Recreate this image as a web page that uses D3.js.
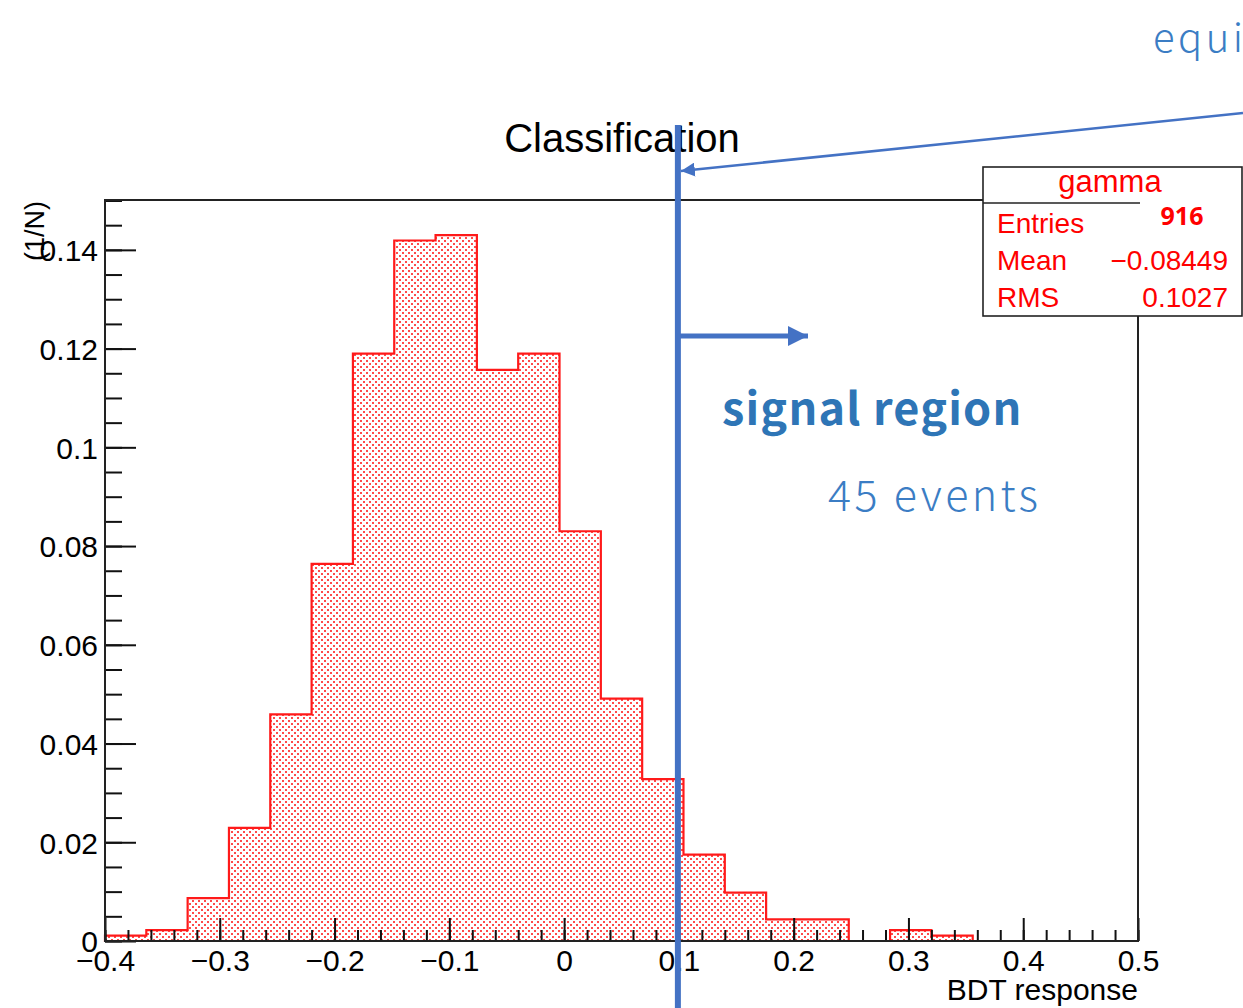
<!DOCTYPE html>
<html lang="en">
<head>
<meta charset="UTF-8">
<title>Classification - BDT response</title>
<script src="https://d3js.org/d3.v7.min.js"></script>
<style>
    html, body { margin: 0; padding: 0; background: #ffffff; }
    svg { display: block; }
    .axis text { font-family: 'Liberation Sans', Arial, sans-serif; font-size: 30px; fill: #000; }
    .axis line { stroke: #111; stroke-width: 2px; }
    .stats text { font-family: 'Liberation Sans', Arial, sans-serif; font-size: 28px; fill: #ff0000; }
    .note { font-family: 'Noto Sans CJK JP', 'Noto Sans', sans-serif; fill: #2e75b6; }
</style>
</head>
<body>
<div id="chart"></div>
<script>
    // histogram: 25 bins between -0.4 and 0.5, normalised (1/N)
    const binLow = -0.4;
    const binHigh = 0.5;
    const binValues = [0.0011, 0.0022, 0.0087, 0.0229, 0.0459, 0.0764, 0.1190, 0.1419, 0.1430,
                       0.1157, 0.1190, 0.0830, 0.0491, 0.0328, 0.0175, 0.0098, 0.0044, 0.0044,
                       0, 0.0022, 0.0011, 0, 0, 0, 0];
    const xMajorTicks = [-0.4, -0.3, -0.2, -0.1, 0, 0.1, 0.2, 0.3, 0.4, 0.5];
    const yMajorTicks = [0, 0.02, 0.04, 0.06, 0.08, 0.1, 0.12, 0.14];
    const statLabels = ["Entries", "Mean", "RMS"];
    const statValues = ["916", "\u22120.08449", "0.1027"];
    const cutValue = 0.1;

    const W = 1243, H = 1008;
    const frame = { left: 105, right: 1138, top: 200, bottom: 941 };

    const svg = d3.select("#chart").append("svg")
        .attr("width", W).attr("height", H);

    const x = d3.scaleLinear().domain([binLow, binHigh]).range([frame.left, frame.right]);
    const y = d3.scaleLinear().domain([0, 0.1501]).range([frame.bottom, frame.top]);

    // dotted fill like ROOT fill style
    const defs = svg.append("defs");
    const pat = defs.append("pattern").attr("id", "dots")
        .attr("patternUnits", "userSpaceOnUse")
        .attr("width", 6).attr("height", 6);
    pat.append("rect").attr("x", 0).attr("y", 0).attr("width", 2).attr("height", 2).attr("fill", "#ff4a4a");
    pat.append("rect").attr("x", 3).attr("y", 3).attr("width", 2).attr("height", 2).attr("fill", "#ff4a4a");

    const binWidth = (binHigh - binLow) / binValues.length;
    let pts = [[binLow, 0]];
    binValues.forEach((v, i) => {
        pts.push([binLow + i * binWidth, v]);
        pts.push([binLow + (i + 1) * binWidth, v]);
    });
    pts.push([binHigh, 0]);

    const line = d3.line().x(d => x(d[0])).y(d => y(d[1]));

    svg.append("path")
        .attr("d", line(pts) + "Z")
        .attr("fill", "url(#dots)")
        .attr("stroke", "#ff1a1a")
        .attr("stroke-width", 2.2);

    // axes (ticks inward like ROOT)
    const fmtY = d => d === 0 ? "0" : d3.format(".2~f")(d);
    const fmtX = d => d === 0 ? "0" : d3.format(".1~f")(d);

    const yMinor = d3.range(0, 0.1501, 0.005);
    svg.append("g").attr("class", "axis")
        .attr("transform", `translate(${frame.left},0)`)
        .call(d3.axisLeft(y).tickValues(yMinor).tickSize(-17).tickFormat(""))
        .call(g => g.select(".domain").remove());
    svg.append("g").attr("class", "axis")
        .attr("transform", `translate(${frame.left},0)`)
        .call(d3.axisLeft(y).tickValues(yMajorTicks).tickSize(-31).tickPadding(7).tickFormat(fmtY))
        .call(g => g.select(".domain").remove())
        .call(g => g.selectAll("text").attr("dy", "0.36em"));

    const xMinor = d3.range(-0.4, 0.5001, 0.02);
    svg.append("g").attr("class", "axis")
        .attr("transform", `translate(0,${frame.bottom})`)
        .call(d3.axisBottom(x).tickValues(xMinor).tickSize(-11).tickFormat(""))
        .call(g => g.select(".domain").remove());
    svg.append("g").attr("class", "axis")
        .attr("transform", `translate(0,${frame.bottom})`)
        .call(d3.axisBottom(x).tickValues(xMajorTicks).tickSize(-23).tickPadding(9).tickFormat(fmtX))
        .call(g => g.select(".domain").remove());

    // frame
    svg.append("rect")
        .attr("x", frame.left).attr("y", frame.top)
        .attr("width", frame.right - frame.left).attr("height", frame.bottom - frame.top)
        .attr("fill", "none").attr("stroke", "#222").attr("stroke-width", 2);

    // titles
    svg.append("text")
        .attr("x", 622).attr("y", 152)
        .attr("text-anchor", "middle")
        .style("font-family", "'Liberation Sans', Arial, sans-serif")
        .style("font-size", "40px")
        .text("Classification");

    svg.append("text")
        .attr("x", frame.right).attr("y", 1000)
        .attr("text-anchor", "end")
        .style("font-family", "'Liberation Sans', Arial, sans-serif")
        .style("font-size", "30px")
        .text("BDT response");

    svg.append("text")
        .attr("transform", "translate(44,231) rotate(-90)")
        .attr("text-anchor", "middle")
        .style("font-family", "'Liberation Sans', Arial, sans-serif")
        .style("font-size", "27px")
        .text("(1/N)");

    // stats box
    const box = { x: 983, y: 167, w: 259, h: 149 };
    const stats = svg.append("g").attr("class", "stats");
    stats.append("rect")
        .attr("x", box.x).attr("y", box.y).attr("width", box.w).attr("height", box.h)
        .attr("fill", "#fff").attr("stroke", "#222").attr("stroke-width", 1.6);
    stats.append("line")
        .attr("x1", box.x).attr("x2", 1140).attr("y1", 203).attr("y2", 203)
        .attr("stroke", "#222").attr("stroke-width", 1.6);
    stats.append("text")
        .attr("x", 1110).attr("y", 192).attr("text-anchor", "middle")
        .style("font-size", "31px")
        .text("gamma");
    stats.selectAll("text.lab").data(statLabels).join("text")
        .attr("class", "lab")
        .attr("x", 997).attr("y", (d, i) => 233 + i * 37)
        .text(d => d);
    stats.selectAll("text.val").data(statValues).join("text")
        .attr("class", "val")
        .attr("x", (d, i) => i === 0 ? 1182 : 1228)
        .attr("y", (d, i) => i === 0 ? 225 : 233 + i * 37)
        .attr("text-anchor", (d, i) => i === 0 ? "middle" : "end")
        .style("font-family", (d, i) => i === 0 ? "'Noto Sans', sans-serif" : null)
        .style("font-weight", (d, i) => i === 0 ? "700" : null)
        .style("font-size", (d, i) => i === 0 ? "25px" : null)
        .text(d => d);

    // annotations
    const blue = "#4472c4";
    const cx = x(cutValue) - 1;
    defs.append("marker").attr("id", "headBig")
        .attr("viewBox", "0 0 10 10").attr("refX", 10).attr("refY", 5)
        .attr("markerUnits", "userSpaceOnUse")
        .attr("markerWidth", 20).attr("markerHeight", 20).attr("orient", "auto")
        .append("path").attr("d", "M0,0L10,5L0,10Z").attr("fill", blue);
    defs.append("marker").attr("id", "headSmall")
        .attr("viewBox", "0 0 10 10").attr("refX", 10).attr("refY", 5)
        .attr("markerUnits", "userSpaceOnUse")
        .attr("markerWidth", 14).attr("markerHeight", 14).attr("orient", "auto")
        .append("path").attr("d", "M0,0L10,5L0,10Z").attr("fill", blue);

    svg.append("line")
        .attr("x1", cx).attr("x2", cx).attr("y1", 125).attr("y2", H)
        .attr("stroke", blue).attr("stroke-width", 6);
    svg.append("line")
        .attr("x1", cx).attr("x2", 808).attr("y1", 336).attr("y2", 336)
        .attr("stroke", blue).attr("stroke-width", 5)
        .attr("marker-end", "url(#headBig)");
    svg.append("line")
        .attr("x1", 1243).attr("y1", 113).attr("x2", cx + 3).attr("y2", 171)
        .attr("stroke", blue).attr("stroke-width", 2.5)
        .attr("marker-end", "url(#headSmall)");

    svg.append("text").attr("class", "note")
        .attr("x", 722).attr("y", 425)
        .style("font-size", "45px").style("font-weight", "700")
        .style("letter-spacing", "1.2px")
        .text("signal region");
    svg.append("text").attr("class", "note")
        .attr("x", 828).attr("y", 511)
        .style("font-size", "43px").style("font-weight", "300")
        .style("letter-spacing", "3.4px")
        .style("fill", "#3b7dc4")
        .text("45 events");
    svg.append("text").attr("class", "note")
        .attr("x", 1153).attr("y", 52)
        .style("font-size", "40px").style("font-weight", "300")
        .style("letter-spacing", "3.5px")
        .style("fill", "#3b7dc4")
        .text("equi");
</script>
</body>
</html>
